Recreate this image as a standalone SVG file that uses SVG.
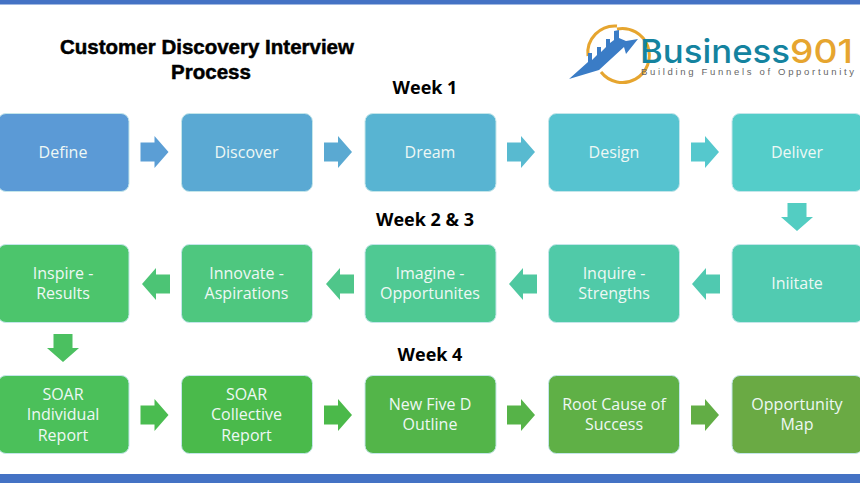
<svg xmlns="http://www.w3.org/2000/svg" width="860" height="484" viewBox="0 0 860 484">
<style>
.n{stroke:#c4e6ea;stroke-width:1}
.t{font-family:"Open Sans",sans-serif;font-size:16px;fill:#eef8f5;text-anchor:middle}
.h{font-family:"Open Sans",sans-serif;font-size:18px;font-weight:700;fill:#000;text-anchor:middle}
.ti{font-family:"Liberation Sans",Arial,sans-serif;font-size:20.5px;font-weight:700;fill:#000;text-anchor:middle;stroke:#000;stroke-width:.5px}
</style>
<defs>
<path id="ar" d="M-14-9.500H0V-16L14 0 0 16V9.500H-14Z"/>
<path id="ad" d="M-9.500-14H9.500V0H16L0 14-16 0H-9.500Z"/>
</defs>
<rect width="860" height="484" fill="#fff"/>
<rect id="top-bar" y="0" width="860" height="4.500" fill="#4472c4"/>
<rect id="bottom-bar" y="474" width="860" height="9" fill="#4472c4"/>
<g id="title"><text class="ti" x="207" y="54">Customer Discovery Interview</text><text class="ti" x="211" y="79">Process</text></g>
<g id="logo">
<path d="M 617 29 A 27 27 0 1 1 601 72" fill="none" stroke="#e6a52f" stroke-width="3"/>
<path d="M 588 56 A 27 27 0 0 1 617 26" fill="none" stroke="#e6a52f" stroke-width="3"/>
<path d="M569 79 L588 62 V53 H592 V60 L597 55 V47 H601 V52 L606 47 V39 H610 V43 L614 40 V31 L619 30 V38 L626 41 L638 39 L626 54 L624 47 L599 70 Z" fill="#3a7cc6"/>
<text x="640" y="63" font-family="Inter,'Open Sans',sans-serif" font-size="33" font-weight="500" fill="#14839f" textLength="150" lengthAdjust="spacingAndGlyphs">Business</text>
<text x="790" y="63" font-family="Inter,'Open Sans',sans-serif" font-size="33" font-weight="500" fill="#e6a52f" textLength="63" lengthAdjust="spacingAndGlyphs">901</text>
<text x="641" y="75" font-family="'Liberation Sans',sans-serif" font-size="9.500" fill="#666" textLength="213" lengthAdjust="spacing">Building Funnels of Opportunity</text>
</g>
<g id="week-labels"><text class="h" x="425" y="94">Week 1</text><text class="h" x="425" y="226">Week 2 &amp; 3</text><text class="h" x="430" y="361">Week 4</text></g>
<g id="connectors">
<use href="#ar" x="154.500" y="152" fill="#5b9ed5"/>
<use href="#ar" x="338" y="152" fill="#5aa9d2"/>
<use href="#ar" x="521" y="152" fill="#58bad0"/>
<use href="#ar" x="705" y="152" fill="#55c8cd"/>
<use href="#ad" x="797" y="217" fill="#53cdc2"/>
<use href="#ar" transform="translate(706 284) scale(-1 1)" fill="#50c9b0"/>
<use href="#ar" transform="translate(523 284) scale(-1 1)" fill="#4fc8a0"/>
<use href="#ar" transform="translate(340 284) scale(-1 1)" fill="#4fc68a"/>
<use href="#ar" transform="translate(156 284) scale(-1 1)" fill="#4cc475"/>
<use href="#ad" x="63" y="348" fill="#4bc060"/>
<use href="#ar" x="154.500" y="415" fill="#4abc50"/>
<use href="#ar" x="338" y="415" fill="#4bb94a"/>
<use href="#ar" x="521" y="415" fill="#56b348"/>
<use href="#ar" x="705" y="415" fill="#62ad45"/>
</g>
<g id="n1"><rect class="n" x="-2" y="113.500" width="131" height="78" rx="8" fill="#5b9ad6"/><text class="t" x="63" y="158">Define</text></g>
<g id="n2"><rect class="n" x="181.500" y="113.500" width="131" height="78" rx="8" fill="#5aa9d3"/><text class="t" x="246.500" y="158">Discover</text></g>
<g id="n3"><rect class="n" x="365" y="113.500" width="131" height="78" rx="8" fill="#58b4d2"/><text class="t" x="430" y="158">Dream</text></g>
<g id="n4"><rect class="n" x="548.500" y="113.500" width="131" height="78" rx="8" fill="#56c3d0"/><text class="t" x="614" y="158">Design</text></g>
<g id="n5"><rect class="n" x="732" y="113.500" width="131" height="78" rx="8" fill="#54cdc9"/><text class="t" x="797" y="158">Deliver</text></g>
<g id="n6"><rect class="n" x="732" y="244.500" width="131" height="78" rx="8" fill="#51cbb1"/><text class="t" x="797" y="289">Iniitate</text></g>
<g id="n7"><rect class="n" x="548.500" y="244.500" width="131" height="78" rx="8" fill="#50caa8"/><text class="t" x="614" y="279">Inquire -</text><text class="t" x="614" y="299">Strengths</text></g>
<g id="n8"><rect class="n" x="365" y="244.500" width="131" height="78" rx="8" fill="#4fc993"/><text class="t" x="430" y="279">Imagine -</text><text class="t" x="430" y="299">Opportunites</text></g>
<g id="n9"><rect class="n" x="181.500" y="244.500" width="131" height="78" rx="8" fill="#4ec77f"/><text class="t" x="246.500" y="279">Innovate -</text><text class="t" x="246.500" y="299">Aspirations</text></g>
<g id="n10"><rect class="n" x="-2" y="244.500" width="131" height="78" rx="8" fill="#4cc56c"/><text class="t" x="63" y="279">Inspire -</text><text class="t" x="63" y="299">Results</text></g>
<g id="n11"><rect class="n" x="-2" y="375.500" width="131" height="78" rx="8" fill="#4bc05a"/><text class="t" x="63" y="400">SOAR</text><text class="t" x="63" y="420">Individual</text><text class="t" x="63" y="441">Report</text></g>
<g id="n12"><rect class="n" x="181.500" y="375.500" width="131" height="78" rx="8" fill="#4aba4b"/><text class="t" x="246.500" y="400">SOAR</text><text class="t" x="246.500" y="420">Collective</text><text class="t" x="246.500" y="441">Report</text></g>
<g id="n13"><rect class="n" x="365" y="375.500" width="131" height="78" rx="8" fill="#53b549"/><text class="t" x="430" y="410">New Five D</text><text class="t" x="430" y="430">Outline</text></g>
<g id="n14"><rect class="n" x="548.500" y="375.500" width="131" height="78" rx="8" fill="#5fb046"/><text class="t" x="614" y="410">Root Cause of</text><text class="t" x="614" y="430">Success</text></g>
<g id="n15"><rect class="n" x="732" y="375.500" width="131" height="78" rx="8" fill="#6aaa44"/><text class="t" x="797" y="410">Opportunity</text><text class="t" x="797" y="430">Map</text></g>
</svg>
